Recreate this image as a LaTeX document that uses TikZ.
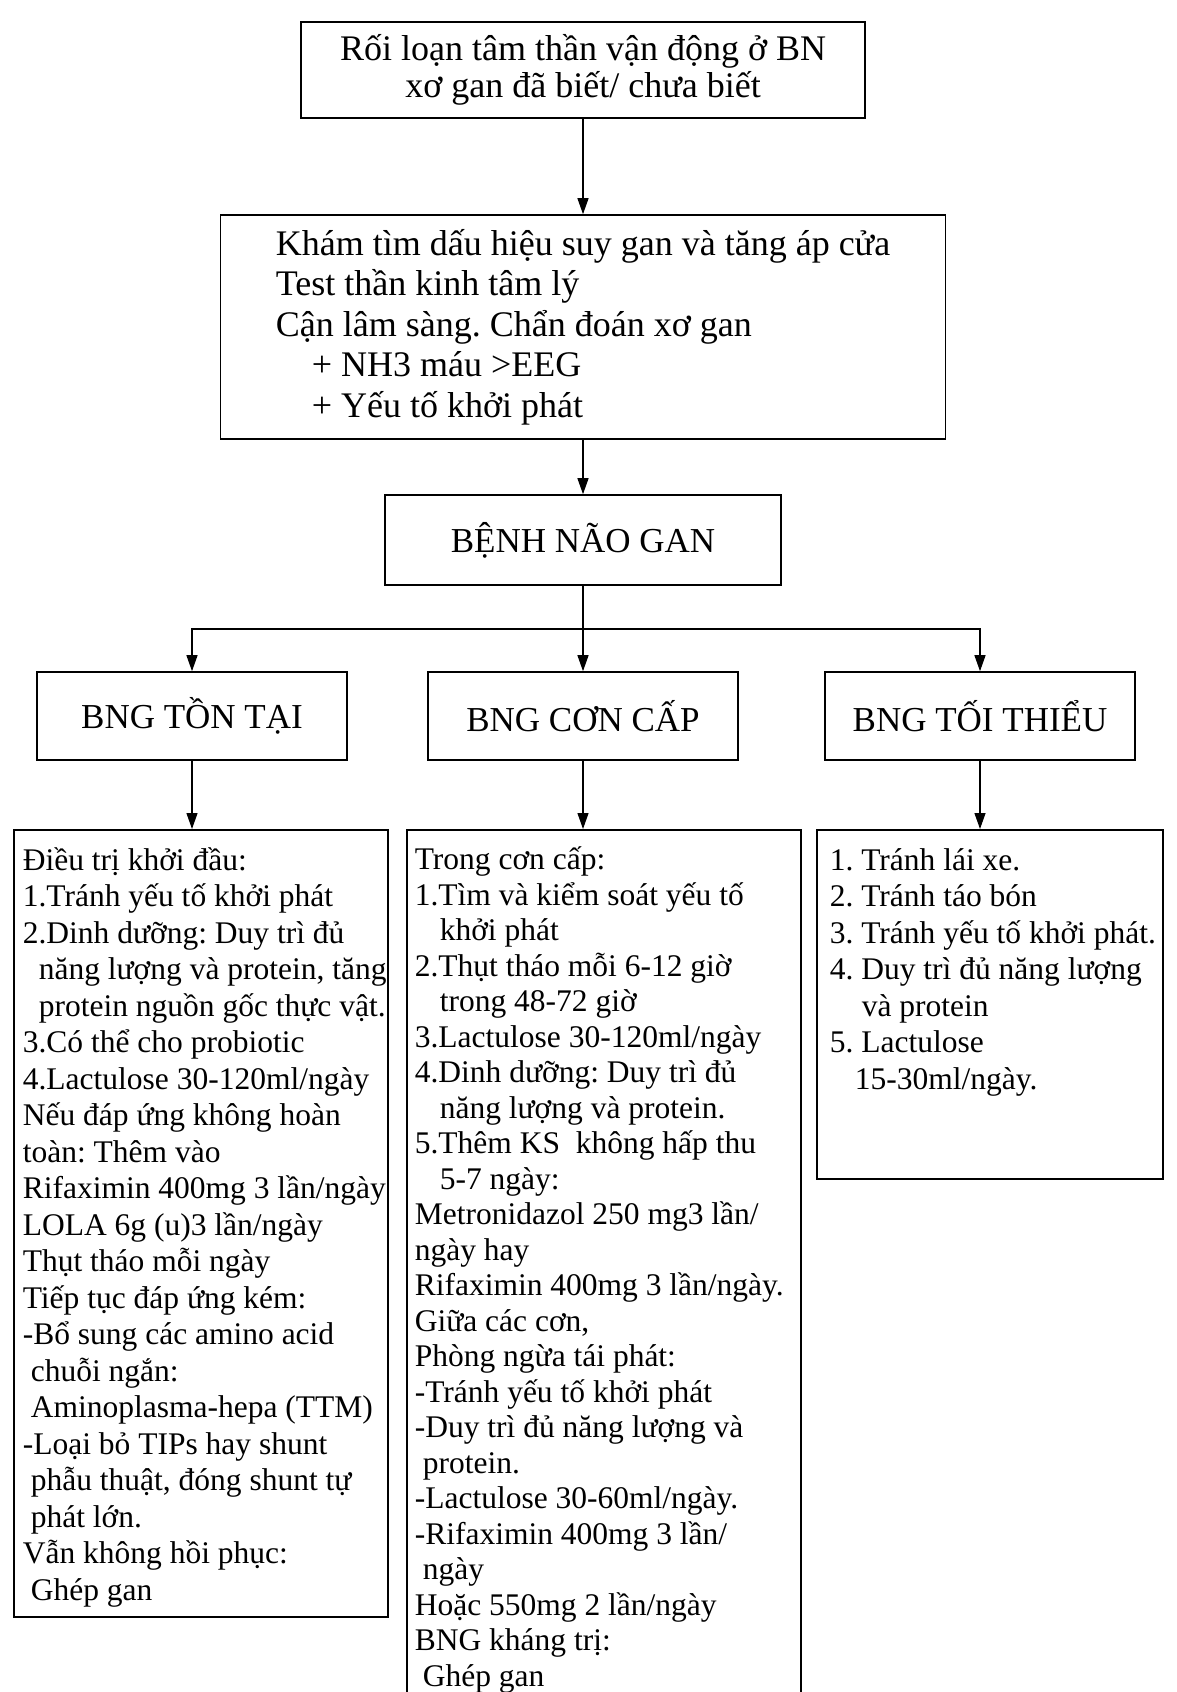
\documentclass[tikz,border=0pt]{standalone}
\usepackage{fontspec}
\setmainfont{Liberation Serif}
\usetikzlibrary{arrows.meta}
\frenchspacing

\newcommand{\listpanel}[3]{\parbox[t][#1][t]{#2}{\begin{tabular}[t]{@{}l@{}}#3\end{tabular}}}

\begin{document}
\begin{tikzpicture}[x=1pt, y=-1pt,
        box/.style={draw, line width=1.6pt, inner sep=0pt, align=center},
        head/.style={box, minimum width=310pt, minimum height=88pt, font=\fontsize{35}{38}\selectfont},
        panel/.style={draw, line width=1.6pt, anchor=north west, inner ysep=15pt},
        link/.style={line width=1.2pt, -{Triangle[length=16pt,width=11pt]}}]
        \useasboundingbox (0,0) rectangle (1176,1692);

        % Presentation and work-up
        \node[box, minimum width=564pt, minimum height=96pt, font=\fontsize{36}{37}\selectfont] (start) at (583,70)
            {Rối loạn tâm thần vận động ở BN\\xơ gan đã biết/ chưa biết};
        \node[box, align=left, minimum width=725pt, minimum height=224pt, font=\fontsize{36}{40.5}\selectfont] (exam) at (583,327)
            {Khám tìm dấu hiệu suy gan và tăng áp cửa\\
             Test thần kinh tâm lý\\
             Cận lâm sàng. Chẩn đoán xơ gan\\
             \hspace*{36pt}+ NH3 máu >EEG\\
             \hspace*{36pt}+ Yếu tố khởi phát};
        \node[box, minimum width=396pt, minimum height=90pt, font=\fontsize{35}{38}\selectfont] (dx) at (583,540) {BỆNH NÃO GAN};

        % Three forms
        \node[head] (head1) at (192,716) {BNG TỒN TẠI};
        \node[head] (head2) at (583,716) {BNG CƠN CẤP};
        \node[head] (head3) at (980,716) {BNG TỐI THIỂU};
        \coordinate (split) at (583,629);

        % Treatment
        \node[panel, inner xsep=9pt, font=\fontsize{31.5}{36.5}\selectfont] (care1) at (13,829)
            {\listpanel{757pt}{356pt}{Điều trị khởi đầu:\\
             1.Tránh yếu tố khởi phát\\
             2.Dinh dưỡng: Duy trì đủ\\
             \hspace*{16pt}năng lượng và protein, tăng\\
             \hspace*{16pt}protein nguồn gốc thực vật.\\
             3.Có thể cho probiotic\\
             4.Lactulose 30-120ml/ngày\\
             Nếu đáp ứng không hoàn\\
             toàn: Thêm vào\\
             Rifaximin 400mg 3 lần/ngày\\
             LOLA 6g (u)3 lần/ngày\\
             Thụt tháo mỗi ngày\\
             Tiếp tục đáp ứng kém:\\
             -Bổ sung các amino acid\\
             \hspace*{8pt}chuỗi ngắn:\\
             \hspace*{8pt}Aminoplasma-hepa (TTM)\\
             -Loại bỏ TIPs hay shunt\\
             \hspace*{8pt}phẫu thuật, đóng shunt tự\\
             \hspace*{8pt}phát lớn.\\
             Vẫn không hồi phục:\\
             \hspace*{8pt}Ghép gan}};
        \node[panel, inner xsep=8pt, font=\fontsize{31.5}{35.5}\selectfont] (care2) at (406,829)
            {\listpanel{900pt}{378pt}{Trong cơn cấp:\\
             1.Tìm và kiểm soát yếu tố\\
             \hspace*{25pt}khởi phát\\
             2.Thụt tháo mỗi 6-12 giờ\\
             \hspace*{25pt}trong 48-72 giờ\\
             3.Lactulose 30-120ml/ngày\\
             4.Dinh dưỡng: Duy trì đủ\\
             \hspace*{25pt}năng lượng và protein.\\
             5.Thêm KS\ \ không hấp thu\\
             \hspace*{25pt}5-7 ngày:\\
             Metronidazol 250 mg3 lần/\\
             ngày hay\\
             Rifaximin 400mg 3 lần/ngày.\\
             Giữa các cơn,\\
             Phòng ngừa tái phát:\\
             -Tránh yếu tố khởi phát\\
             -Duy trì đủ năng lượng và\\
             \hspace*{8pt}protein.\\
             -Lactulose 30-60ml/ngày.\\
             -Rifaximin 400mg 3 lần/\\
             \hspace*{8pt}ngày\\
             Hoặc 550mg 2 lần/ngày\\
             BNG kháng trị:\\
             \hspace*{8pt}Ghép gan}};
        \node[panel, inner xsep=13pt, font=\fontsize{31.5}{36.5}\selectfont] (care3) at (816,829)
            {\listpanel{319pt}{320pt}{1. Tránh lái xe.\\
             2. Tránh táo bón\\
             3. Tránh yếu tố khởi phát.\\
             4. Duy trì đủ năng lượng\\
             \hspace*{32pt}và protein\\
             5. Lactulose\\
             \hspace*{25pt}15-30ml/ngày.}};

        % Arrows
        \draw[link] (start.south) -- (exam.north);
        \draw[link] (exam.south) -- (dx.north);
        \draw[link] (dx.south) -- (head2.north);
        \draw[link] (split) -| (head1.north);
        \draw[link] (split) -| (head3.north);
        \draw[link] (head1.south) -- (head1.south |- care1.north);
        \draw[link] (head2.south) -- (head2.south |- care2.north);
        \draw[link] (head3.south) -- (head3.south |- care3.north);
    \end{tikzpicture}
\end{document}
